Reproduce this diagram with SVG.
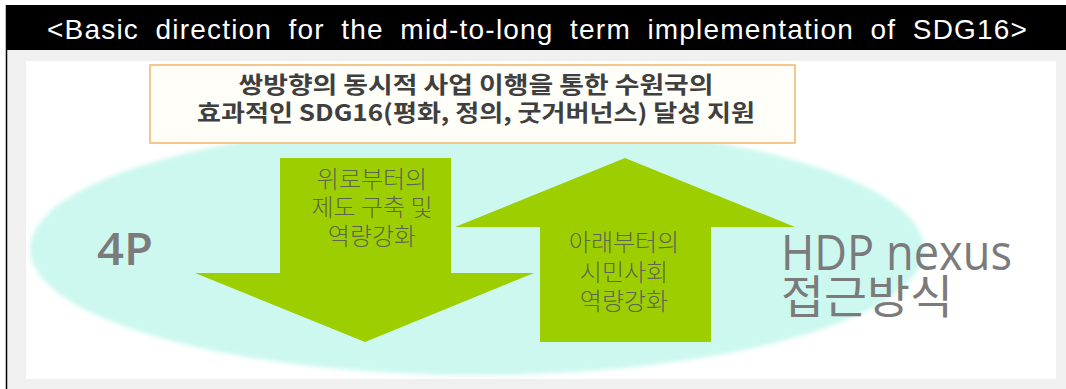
<svg xmlns="http://www.w3.org/2000/svg" width="1066" height="389" viewBox="0 0 1066 389">
  <style>
    .hdr { font-family: "Liberation Sans", Arial, sans-serif; font-size: 28px; fill: #ffffff; letter-spacing: 1.2px; word-spacing: 7.5px; }
    .goal { font-family: "Noto Sans CJK KR", "Noto Sans", sans-serif; font-size: 23px; font-weight: bold; fill: #3f3f3f; text-anchor: middle; }
    .arr { font-family: "Noto Sans CJK KR", sans-serif; font-size: 24px; font-weight: 300; fill: #5e6650; text-anchor: middle; }
    .big { font-family: "Open Sans", "Noto Sans", sans-serif; fill: #7b7b7b; }
    .bigk { font-family: "Noto Sans CJK KR", sans-serif; fill: #7b7b7b; }
    .green { fill: #9dcf00; }
  </style>
  <defs>
    <filter id="soft" x="-5%" y="-5%" width="110%" height="110%">
      <feGaussianBlur stdDeviation="2"/>
    </filter>
  </defs>

  <!-- background / frame -->
  <rect x="0" y="0" width="1066" height="389" fill="#ffffff"/>
  <rect x="7" y="50" width="1059" height="339" fill="#f0f0f0"/>
  <line x1="6.5" y1="5" x2="6.5" y2="389" stroke="#000" stroke-width="1.5"/>

  <g id="header">
    <rect x="6" y="5" width="1060" height="45" fill="#000000"/>
    <text class="hdr" x="47" y="39">&lt;Basic direction for the mid-to-long term implementation of SDG16&gt;</text>
  </g>

  <g id="panel">
    <rect x="26" y="61" width="1030" height="318" fill="#ffffff"/>
  </g>

  <g id="field">
    <ellipse cx="477" cy="249" rx="447" ry="126" fill="#ccf8f0" filter="url(#soft)"/>
  </g>

  <g id="goal">
    <rect x="150" y="65" width="645" height="78" fill="#fffef9" stroke="#f2c88c" stroke-width="2"/>
    <text class="goal"><tspan x="476" y="93" textLength="475" lengthAdjust="spacingAndGlyphs">쌍방향의 동시적 사업 이행을 통한 수원국의</tspan><tspan x="476" y="121" textLength="558" lengthAdjust="spacingAndGlyphs">효과적인 SDG16(평화, 정의, 굿거버넌스) 달성 지원</tspan></text>
  </g>

  <g id="down-arrow">
    <polygon class="green" points="280,158 451,158 451,273 534,273 365,342 195,273 280,273"/>
    <text class="arr"><tspan x="372" y="188">위로부터의</tspan><tspan x="372" y="216">제도 구축 및</tspan><tspan x="372" y="245">역량강화</tspan></text>
  </g>

  <g id="up-arrow">
    <polygon class="green" points="625,158 795,227 711,227 711,342 540,342 540,227 455,227"/>
    <text class="arr"><tspan x="624" y="251">아래부터의</tspan><tspan x="624" y="281">시민사회</tspan><tspan x="624" y="310">역량강화</tspan></text>
  </g>

  <g id="label-4p">
    <text class="big" x="97" y="265" font-size="45" font-weight="600" textLength="56" lengthAdjust="spacingAndGlyphs">4P</text>
  </g>

  <g id="label-hdp">
    <text class="big" font-size="50"><tspan x="781" y="270" textLength="231" lengthAdjust="spacingAndGlyphs">HDP nexus</tspan><tspan class="bigk" x="781" y="313" font-size="46" textLength="172" lengthAdjust="spacingAndGlyphs">접근방식</tspan></text>
  </g>
</svg>
